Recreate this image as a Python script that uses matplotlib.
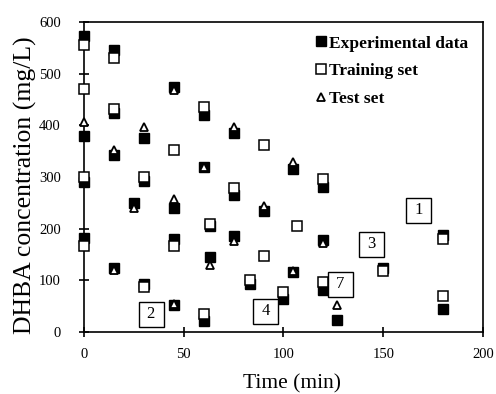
import matplotlib
matplotlib.use('Agg')
import matplotlib.pyplot as plt

plt.rcParams['font.family'] = ['Liberation Serif', 'DejaVu Serif']

# experimental data (filled squares)
exp_t = [0, 0, 0, 0, 15, 15, 15, 15, 25, 30, 30, 30, 45, 45, 45, 45,
         60, 60, 60, 63, 63, 75, 75, 75, 83, 90, 100, 105, 105,
         120, 120, 120, 127, 150, 180, 180]
exp_c = [573, 380, 290, 183, 545, 425, 342, 125, 250, 375, 292, 93,
         474, 240, 180, 52, 420, 319, 22, 205, 145, 385, 266, 186,
         93, 235, 65, 315, 117, 280, 178, 82, 23, 125, 188, 45]

# training set (open squares)
train_t = [0, 0, 0, 0, 15, 15, 30, 30, 45, 45, 60, 60, 63, 75, 83,
           90, 90, 100, 107, 120, 120, 150, 180, 180]
train_c = [555, 470, 300, 167, 530, 432, 300, 88, 352, 167, 436, 35,
           210, 278, 101, 363, 148, 77, 205, 296, 97, 118, 180, 70]

# test set (open triangles)
test_t = [0, 15, 15, 25, 30, 45, 45, 45, 60, 63, 75, 75, 90, 105, 105,
          120, 127]
test_c = [406, 352, 120, 240, 397, 468, 258, 55, 320, 130, 397, 176,
          245, 330, 118, 172, 52]

# numbered boxes
box_labels = ['1', '2', '3', '4', '7']
box_t = [167.5, 33.5, 144, 91, 128.3]
box_c = [236, 35, 170, 41, 94]

fig = plt.figure(figsize=(4.96, 3.94), dpi=100)
ax = fig.add_axes([0.169, 0.157, 0.805, 0.787])

ax.plot(exp_t, exp_c, 's', ms=7.5, mfc='black', mec='black',
        label='Experimental data', zorder=2, clip_on=False)
ax.plot(train_t, train_c, 's', ms=7.5, mfc='white', mec='black', mew=1.1,
        label='Training set', zorder=3, clip_on=False)
ax.plot(test_t, test_c, '^', ms=6, mfc='white', mec='black', mew=1.3,
        label='Test set', zorder=4, clip_on=False)

# boxed curve numbers
ax.plot(box_t, box_c, 's', ms=18, mfc='white', mec='black', mew=1.0, zorder=5)
for lab, t, c in zip(box_labels, box_t, box_c):
    ax.text(t, c, lab, ha='center', va='center', fontsize=12, zorder=6)

ax.set_xlim(0, 200)
ax.set_ylim(0, 600)
ax.set_xticks([0, 50, 100, 150, 200])
ax.set_yticks(range(0, 601, 100))
ax.tick_params(direction='inout', length=7, width=1.2, labelsize=10.5,
               top=False, right=False)
ax.tick_params(axis='y', pad=13)
ax.tick_params(axis='x', pad=8)
for s in ax.spines.values():
    s.set_linewidth(1.2)

ax.set_xlabel('Time (min)', fontsize=15.5)
ax.set_ylabel('DHBA concentration (mg/L)', fontsize=18.5)
ax.xaxis.set_label_coords(0.521, -0.137)
ax.yaxis.set_label_coords(-0.118, 0.474)

leg = ax.legend(loc='upper left', frameon=False, handlelength=0.7,
                handletextpad=0.15, labelspacing=0.66, borderaxespad=0,
                borderpad=0, prop={'weight': 'bold', 'size': 12.5},
                bbox_to_anchor=(0.578, 0.957))

fig.savefig('out.png', dpi=100, facecolor='white')
